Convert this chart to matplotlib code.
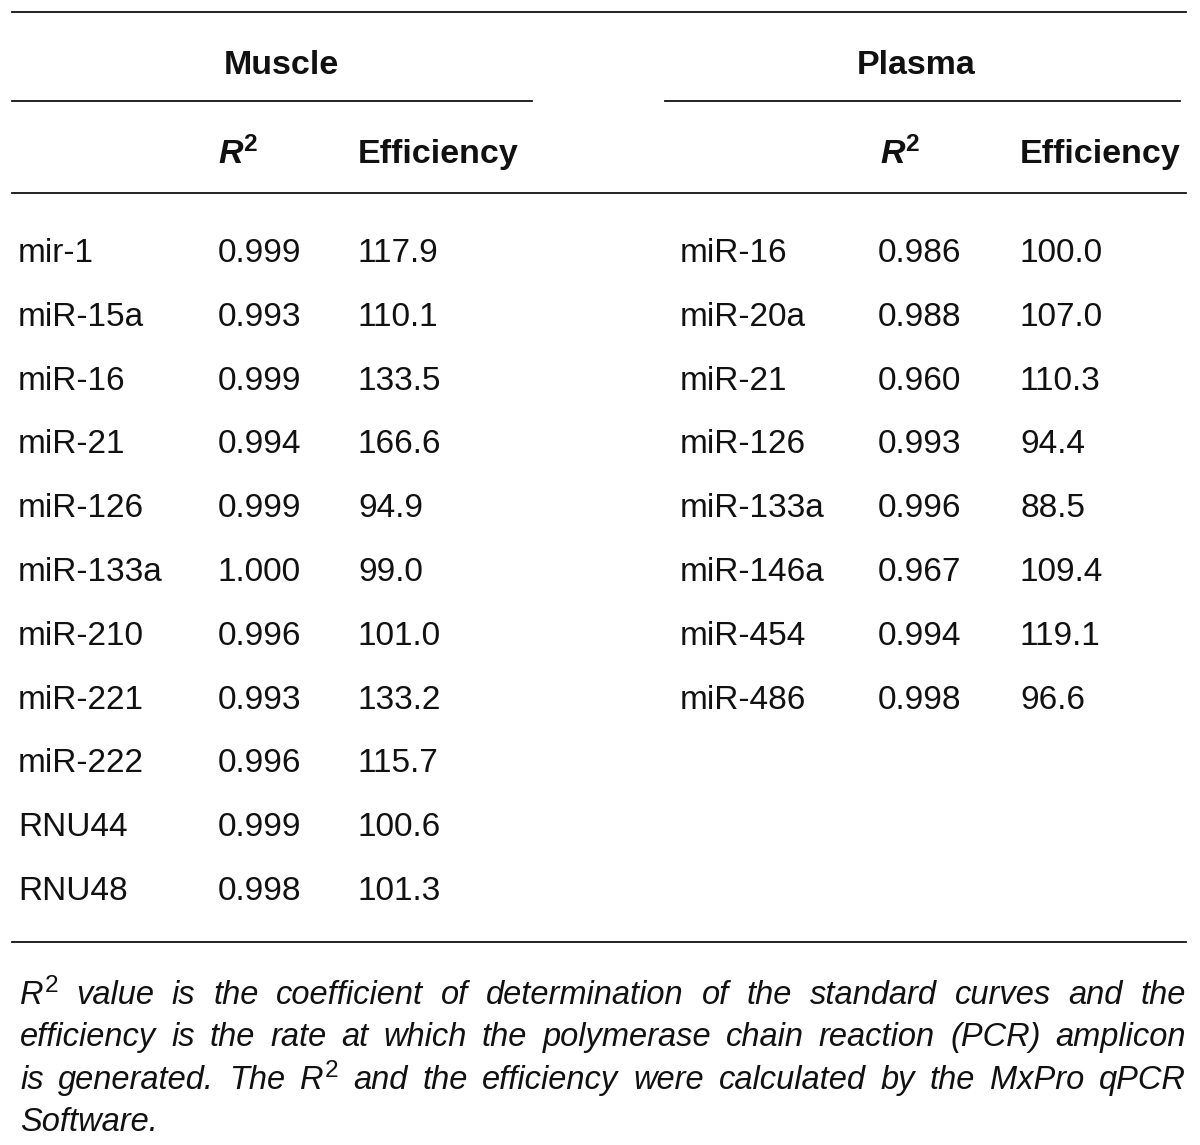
import matplotlib
matplotlib.use("Agg")
import matplotlib.pyplot as plt

plt.rcParams['font.family'] = ['Liberation Sans', 'DejaVu Sans']

# ---- data ----
muscle_names = ["mir-1", "miR-15a", "miR-16", "miR-21", "miR-126", "miR-133a",
                "miR-210", "miR-221", "miR-222", "RNU44", "RNU48"]
muscle_r2 = [0.999, 0.993, 0.999, 0.994, 0.999, 1.000, 0.996, 0.993, 0.996, 0.999, 0.998]
muscle_eff = [117.9, 110.1, 133.5, 166.6, 94.9, 99.0, 101.0, 133.2, 115.7, 100.6, 101.3]

plasma_names = ["miR-16", "miR-20a", "miR-21", "miR-126", "miR-133a", "miR-146a",
                "miR-454", "miR-486"]
plasma_r2 = [0.986, 0.988, 0.960, 0.993, 0.996, 0.967, 0.994, 0.998]
plasma_eff = [100.0, 107.0, 110.3, 94.4, 88.5, 109.4, 119.1, 96.6]

group_titles = ["Muscle", "Plasma"]
col_titles = ["Efficiency"]

footnote_lines = [
    ["R2", "value", "is", "the", "coefficient", "of", "determination", "of", "the",
     "standard", "curves", "and", "the"],
    ["efficiency", "is", "the", "rate", "at", "which", "the", "polymerase", "chain",
     "reaction", "(PCR)", "amplicon"],
    ["is", "generated.", "The", "R2", "and", "the", "efficiency", "were", "calculated",
     "by", "the", "MxPro", "qPCR"],
    ["Software."],
]

W, H = 1200, 1145
fig = plt.figure(figsize=(W / 100, H / 100), dpi=100)
ax = fig.add_axes([0, 0, 1, 1])
ax.set_xlim(0, W)
ax.set_ylim(H, 0)
ax.axis('off')

FS = 24
BFS = 24.5
LW = 1.3
col = '#111111'

# rules
ax.plot([12, 1186], [12, 12], color=col, lw=LW)
ax.plot([12, 532], [101, 101], color=col, lw=LW)
ax.plot([665, 1180], [101, 101], color=col, lw=LW)
ax.plot([12, 1186], [193, 193], color=col, lw=LW)
ax.plot([12, 1186], [942, 942], color=col, lw=LW)

# group titles
ax.text(281, 74, group_titles[0], fontsize=BFS, fontweight='bold', ha='center',
        va='baseline', color=col)
ax.text(916, 74, group_titles[1], fontsize=BFS, fontweight='bold', ha='center',
        va='baseline', color=col)

fig.canvas.draw()
renderer = fig.canvas.get_renderer()

# column headers
for xr, xe in [(218, 358), (880, 1020)]:
    t = ax.text(xr, 163, "R", fontsize=BFS, fontweight='bold', fontstyle='italic',
                ha='left', va='baseline', color=col)
    wr = t.get_window_extent(renderer).width
    ax.text(xr + wr + 1, 163 - 12, "2", fontsize=BFS * 0.72, fontweight='bold',
            ha='left', va='baseline', color=col)
    ax.text(xe, 163, col_titles[0], fontsize=BFS, fontweight='bold', ha='left',
            va='baseline', color=col)

# rows
y0, dy = 262, 63.8
for i, (n, r, e) in enumerate(zip(muscle_names, muscle_r2, muscle_eff)):
    y = y0 + i * dy
    ax.text(18, y, n, fontsize=FS, ha='left', va='baseline', color=col)
    ax.text(218, y, f"{r:.3f}", fontsize=FS, ha='left', va='baseline', color=col)
    ax.text(358, y, f"{e:.1f}", fontsize=FS, ha='left', va='baseline', color=col)
for i, (n, r, e) in enumerate(zip(plasma_names, plasma_r2, plasma_eff)):
    y = y0 + i * dy
    ax.text(680, y, n, fontsize=FS, ha='left', va='baseline', color=col)
    ax.text(878, y, f"{r:.3f}", fontsize=FS, ha='left', va='baseline', color=col)
    ax.text(1020, y, f"{e:.1f}", fontsize=FS, ha='left', va='baseline', color=col)

# footnote (justified)
FFS = 23.5
left, right = 20, 1186
fy0, fdy = 1004, 42.3
for li, words in enumerate(footnote_lines):
    y = fy0 + li * fdy
    groups = []
    for w in words:
        if w == "R2":
            t = ax.text(0, y, "R", fontsize=FFS, fontstyle='italic', ha='left',
                        va='baseline', color=col)
            s = ax.text(0, y - 12, "2", fontsize=FFS * 0.75, ha='left', va='baseline',
                        color=col)
            groups.append([t, s])
        else:
            t = ax.text(0, y, w, fontsize=FFS, fontstyle='italic', ha='left',
                        va='baseline', color=col)
            groups.append([t])
    widths = []
    for g in groups:
        widths.append(tuple(a.get_window_extent(renderer).width for a in g))
    total = sum(sum(w) + (1 if len(w) == 2 else 0) for w in widths)
    if li < len(footnote_lines) - 1 and len(groups) > 1:
        gap = (right - left - total) / (len(groups) - 1)
    else:
        gap = 7
    x = left
    for g, w in zip(groups, widths):
        if len(g) == 2:
            g[0].set_x(x)
            g[1].set_x(x + w[0] + 1)
            x += w[0] + 1 + w[1] + gap
        else:
            g[0].set_x(x)
            x += w[0] + gap

fig.savefig("out.png", dpi=100, facecolor='white')
